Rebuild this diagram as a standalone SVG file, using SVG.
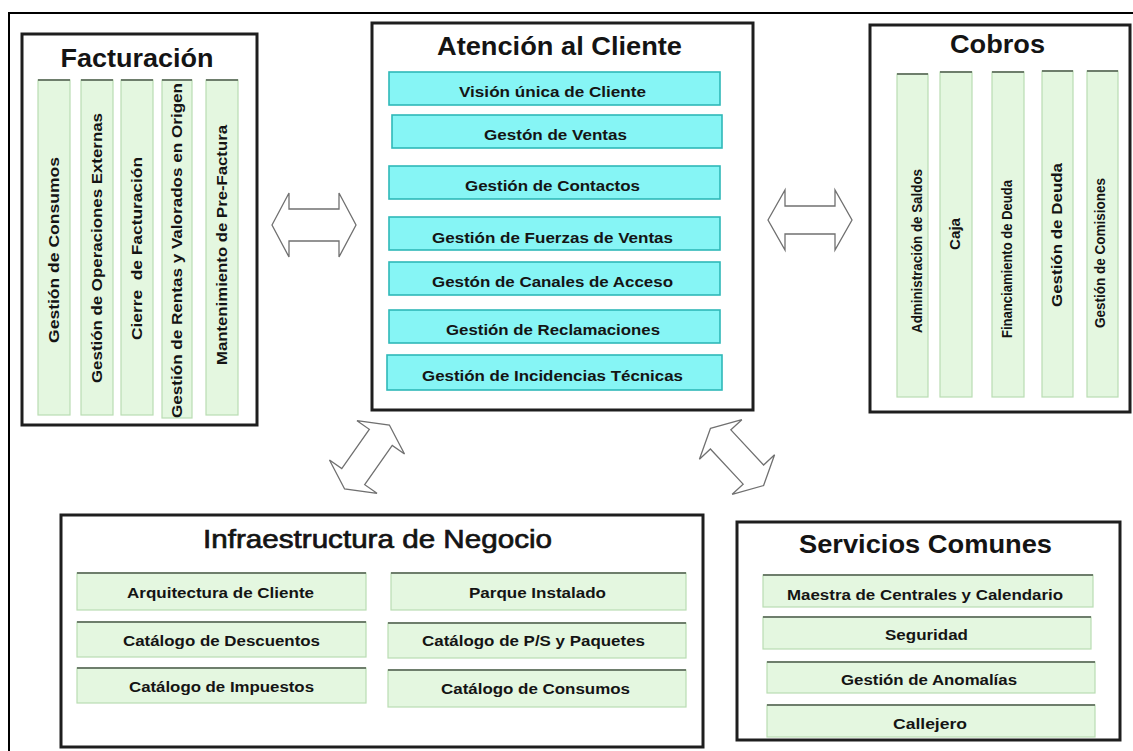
<svg xmlns="http://www.w3.org/2000/svg" width="1133" height="751" viewBox="0 0 1133 751">
<style>
text{font-family:"Liberation Sans",Arial,sans-serif;fill:#141414;}
.frame{fill:none;stroke:#000;stroke-width:2;}
.box{fill:#fff;stroke:#1e1e1e;stroke-width:3;}
.title{font-weight:bold;font-size:25px;text-anchor:middle;}
.titler{font-weight:normal;font-size:26px;text-anchor:middle;stroke:#141414;stroke-width:0.7;}
.g{fill:#e4f7e0;stroke:#b9ddb2;stroke-width:1.2;}
.gt{fill:none;stroke:#6e7e6c;stroke-width:2;}
.c{fill:#86f5f5;stroke:#2fb8b8;stroke-width:1.6;}
.lab{font-weight:bold;font-size:14px;text-anchor:middle;}
.labc{font-weight:bold;font-size:15px;text-anchor:middle;}
.arrow{fill:#fff;stroke:#707070;stroke-width:1.3;stroke-linejoin:miter;}
</style>
<defs>
<polygon id="darr" points="-39,0 -24,-29 -24,-14 24,-14 24,-29 39,0 24,29 24,14 -24,14 -24,29"/>
</defs>
<path class="frame" d="M9,751 V13 H1133"/>

<g id="facturacion">
<rect class="box" x="22" y="34" width="235" height="391"/>
<text class="title" x="137" y="67" textLength="153" lengthAdjust="spacingAndGlyphs" font-size="26">Facturación</text>
<g id="f1"><rect class="g" x="38" y="80" width="32" height="335"/><line class="gt" x1="38" y1="80" x2="70" y2="80"/>
<text class="lab" transform="translate(54,250) rotate(-90)" x="0" y="5" textLength="186" lengthAdjust="spacingAndGlyphs">Gestión de Consumos</text></g>
<g id="f2"><rect class="g" x="81" y="80" width="32" height="335"/><line class="gt" x1="81" y1="80" x2="113" y2="80"/>
<text class="lab" transform="translate(97,248) rotate(-90)" x="0" y="5" textLength="270" lengthAdjust="spacingAndGlyphs">Gestión de Operaciones Externas</text></g>
<g id="f3"><rect class="g" x="121" y="80" width="32" height="335"/><line class="gt" x1="121" y1="80" x2="153" y2="80"/>
<text class="lab" transform="translate(137,248.5) rotate(-90)" x="0" y="5" textLength="183" lengthAdjust="spacingAndGlyphs" xml:space="preserve">Cierre  de Facturación</text></g>
<g id="f4"><rect class="g" x="162" y="80" width="30" height="338"/><line class="gt" x1="162" y1="80" x2="192" y2="80"/>
<text class="lab" transform="translate(177,250.5) rotate(-90)" x="0" y="5" textLength="335" lengthAdjust="spacingAndGlyphs">Gestión de Rentas y Valorados en Origen</text></g>
<g id="f5"><rect class="g" x="206" y="80" width="32" height="335"/><line class="gt" x1="206" y1="80" x2="238" y2="80"/>
<text class="lab" transform="translate(222,245) rotate(-90)" x="0" y="5" textLength="240" lengthAdjust="spacingAndGlyphs">Mantenimiento de Pre-Factura</text></g>
</g>

<g id="atencion">
<rect class="box" x="372" y="23" width="381" height="387"/>
<text class="title" x="559.5" y="55" textLength="245" lengthAdjust="spacingAndGlyphs">Atención al Cliente</text>
<g id="a1"><rect class="c" x="389" y="72" width="331" height="33"/>
<text class="labc" x="552.5" y="97" textLength="187" lengthAdjust="spacingAndGlyphs">Visión única de Cliente</text></g>
<g id="a2"><rect class="c" x="392" y="115" width="330" height="33"/>
<text class="labc" x="555.5" y="140" textLength="143" lengthAdjust="spacingAndGlyphs">Gestón de Ventas</text></g>
<g id="a3"><rect class="c" x="389" y="166" width="331" height="33"/>
<text class="labc" x="552.5" y="191" textLength="175" lengthAdjust="spacingAndGlyphs">Gestión de Contactos</text></g>
<g id="a4"><rect class="c" x="389" y="217" width="331" height="33"/>
<text class="labc" x="552.5" y="243" textLength="241" lengthAdjust="spacingAndGlyphs">Gestión de Fuerzas de Ventas</text></g>
<g id="a5"><rect class="c" x="389" y="262" width="331" height="33"/>
<text class="labc" x="552.5" y="287" textLength="241" lengthAdjust="spacingAndGlyphs">Gestón de Canales de Acceso</text></g>
<g id="a6"><rect class="c" x="389" y="310" width="331" height="33"/>
<text class="labc" x="553" y="335" textLength="214" lengthAdjust="spacingAndGlyphs">Gestión de Reclamaciones</text></g>
<g id="a7"><rect class="c" x="387" y="355" width="335" height="35"/>
<text class="labc" x="552.5" y="381" textLength="261" lengthAdjust="spacingAndGlyphs">Gestión de Incidencias Técnicas</text></g>
</g>

<g id="cobros">
<rect class="box" x="870" y="25" width="260" height="387"/>
<text class="title" x="997.5" y="53" textLength="95" lengthAdjust="spacingAndGlyphs" font-size="23">Cobros</text>
<g id="c1"><rect class="g" x="897" y="74" width="31" height="323"/><line class="gt" x1="897" y1="74" x2="928" y2="74"/>
<text class="lab" transform="translate(917,251) rotate(-90)" x="0" y="5" textLength="164" lengthAdjust="spacingAndGlyphs">Administración de Saldos</text></g>
<g id="c2"><rect class="g" x="940" y="72" width="32" height="325"/><line class="gt" x1="940" y1="72" x2="972" y2="72"/>
<text class="lab" transform="translate(955,234) rotate(-90)" x="0" y="5" textLength="32" lengthAdjust="spacingAndGlyphs">Caja</text></g>
<g id="c3"><rect class="g" x="992" y="72" width="32" height="325"/><line class="gt" x1="992" y1="72" x2="1024" y2="72"/>
<text class="lab" transform="translate(1007,259) rotate(-90)" x="0" y="5" textLength="158" lengthAdjust="spacingAndGlyphs">Financiamiento de Deuda</text></g>
<g id="c4"><rect class="g" x="1042" y="71" width="31" height="326"/><line class="gt" x1="1042" y1="71" x2="1073" y2="71"/>
<text class="lab" transform="translate(1057,235) rotate(-90)" x="0" y="5" textLength="144" lengthAdjust="spacingAndGlyphs">Gestión de Deuda</text></g>
<g id="c5"><rect class="g" x="1087" y="71" width="31" height="326"/><line class="gt" x1="1087" y1="71" x2="1118" y2="71"/>
<text class="lab" transform="translate(1100,253) rotate(-90)" x="0" y="5" textLength="150" lengthAdjust="spacingAndGlyphs">Gestión de Comisiones</text></g>
</g>

<g id="infraestructura">
<rect class="box" x="61" y="515" width="642" height="232"/>
<text class="titler" x="377.5" y="548" textLength="349" lengthAdjust="spacingAndGlyphs">Infraestructura de Negocio</text>
<g id="i1"><rect class="g" x="77" y="573" width="289" height="37"/><line class="gt" x1="77" y1="573" x2="366" y2="573"/>
<text class="lab" x="220.5" y="598" textLength="187" lengthAdjust="spacingAndGlyphs">Arquitectura de Cliente</text></g>
<g id="i2"><rect class="g" x="391" y="573" width="295" height="37"/><line class="gt" x1="391" y1="573" x2="686" y2="573"/>
<text class="lab" x="537.5" y="598" textLength="137" lengthAdjust="spacingAndGlyphs">Parque Instalado</text></g>
<g id="i3"><rect class="g" x="77" y="622" width="289" height="35"/><line class="gt" x1="77" y1="622" x2="366" y2="622"/>
<text class="lab" x="221.5" y="646" textLength="197" lengthAdjust="spacingAndGlyphs">Catálogo de Descuentos</text></g>
<g id="i4"><rect class="g" x="388" y="623" width="298" height="35"/><line class="gt" x1="388" y1="623" x2="686" y2="623"/>
<text class="lab" x="533.5" y="646" textLength="223" lengthAdjust="spacingAndGlyphs">Catálogo de P/S y Paquetes</text></g>
<g id="i5"><rect class="g" x="77" y="668" width="289" height="35"/><line class="gt" x1="77" y1="668" x2="366" y2="668"/>
<text class="lab" x="221.5" y="692" textLength="185" lengthAdjust="spacingAndGlyphs">Catálogo de Impuestos</text></g>
<g id="i6"><rect class="g" x="388" y="670" width="298" height="37"/><line class="gt" x1="388" y1="670" x2="686" y2="670"/>
<text class="lab" x="535.5" y="694" textLength="189" lengthAdjust="spacingAndGlyphs">Catálogo de Consumos</text></g>
</g>

<g id="servicios">
<rect class="box" x="737" y="522" width="383" height="218"/>
<text class="title" x="925.5" y="553" textLength="253" lengthAdjust="spacingAndGlyphs">Servicios Comunes</text>
<g id="s1"><rect class="g" x="763" y="575" width="330" height="32"/><line class="gt" x1="763" y1="575" x2="1093" y2="575"/>
<text class="lab" x="925" y="600" textLength="276" lengthAdjust="spacingAndGlyphs">Maestra de Centrales y Calendario</text></g>
<g id="s2"><rect class="g" x="763" y="617" width="328" height="32"/><line class="gt" x1="763" y1="617" x2="1091" y2="617"/>
<text class="lab" x="926.5" y="640" textLength="83" lengthAdjust="spacingAndGlyphs">Seguridad</text></g>
<g id="s3"><rect class="g" x="767" y="662" width="328" height="31"/><line class="gt" x1="767" y1="662" x2="1095" y2="662"/>
<text class="lab" x="929" y="685" textLength="176" lengthAdjust="spacingAndGlyphs">Gestión de Anomalías</text></g>
<g id="s4"><rect class="g" x="767" y="705" width="328" height="32"/><line class="gt" x1="767" y1="705" x2="1095" y2="705"/>
<text class="lab" x="930" y="729" textLength="74" lengthAdjust="spacingAndGlyphs">Callejero</text></g>
</g>

<g id="connectors">
<polygon class="arrow" points="272,225 289,193 289,209 339,209 339,193 356,225 339,257 339,241 289,241 289,257"/>
<polygon class="arrow" points="768,220 785,190 785,206 835,206 835,190 852,220 835,250 835,234 785,234 785,250"/>
<use href="#darr" class="arrow" transform="translate(367,457) rotate(-55)"/>
<use href="#darr" class="arrow" transform="translate(737,457) rotate(47)"/>
</g>
</svg>
